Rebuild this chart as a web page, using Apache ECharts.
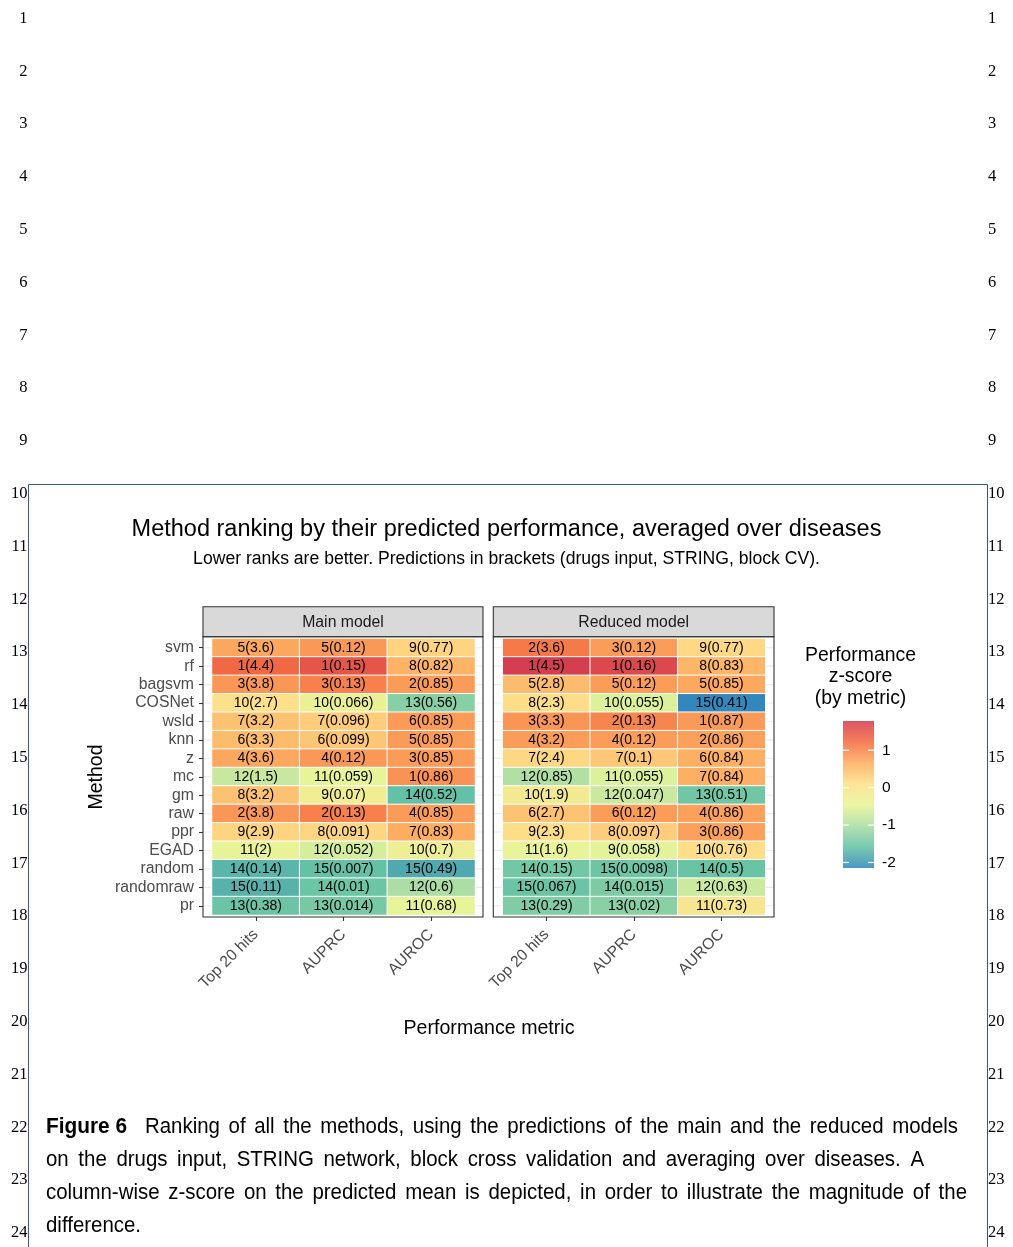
<!DOCTYPE html>
<html>
<head>
<meta charset="utf-8">
<script src="https://cdn.jsdelivr.net/npm/echarts@6/dist/echarts.min.js"></script>
<style>
  html, body { margin: 0; padding: 0; background: #ffffff; }
  #chart { width: 1013px; height: 1247px; }
</style>
</head>
<body>
<div id="chart"></div>
<script>
// ---- data -----------------------------------------------------------------
const methods = ['svm', 'rf', 'bagsvm', 'COSNet', 'wsld', 'knn', 'z', 'mc', 'gm', 'raw', 'ppr', 'EGAD', 'random', 'randomraw', 'pr'];
const metrics = ['Top 20 hits', 'AUPRC', 'AUROC'];
const panelNames = ['Main model', 'Reduced model'];

// main model: rank and predicted mean per metric
const mainTop20Rank = [5, 1, 3, 10, 7, 6, 4, 12, 8, 2, 9, 11, 14, 15, 13];
const mainTop20Pred = [3.6, 4.4, 3.8, 2.7, 3.2, 3.3, 3.6, 1.5, 3.2, 3.8, 2.9, 2, 0.14, 0.11, 0.38];
const mainAuprcRank = [5, 1, 3, 10, 7, 6, 4, 11, 9, 2, 8, 12, 15, 14, 13];
const mainAuprcPred = [0.12, 0.15, 0.13, 0.066, 0.096, 0.099, 0.12, 0.059, 0.07, 0.13, 0.091, 0.052, 0.007, 0.01, 0.014];
const mainAurocRank = [9, 8, 2, 13, 6, 5, 3, 1, 14, 4, 7, 10, 15, 12, 11];
const mainAurocPred = [0.77, 0.82, 0.85, 0.56, 0.85, 0.85, 0.85, 0.86, 0.52, 0.85, 0.83, 0.7, 0.49, 0.6, 0.68];

// reduced model: rank and predicted mean per metric
const redTop20Rank = [2, 1, 5, 8, 3, 4, 7, 12, 10, 6, 9, 11, 14, 15, 13];
const redTop20Pred = [3.6, 4.5, 2.8, 2.3, 3.3, 3.2, 2.4, 0.85, 1.9, 2.7, 2.3, 1.6, 0.15, 0.067, 0.29];
const redAuprcRank = [3, 1, 5, 10, 2, 4, 7, 11, 12, 6, 8, 9, 15, 14, 13];
const redAuprcPred = [0.12, 0.16, 0.12, 0.055, 0.13, 0.12, 0.1, 0.055, 0.047, 0.12, 0.097, 0.058, 0.0098, 0.015, 0.02];
const redAurocRank = [9, 8, 5, 15, 1, 2, 6, 7, 13, 4, 3, 10, 14, 12, 11];
const redAurocPred = [0.77, 0.83, 0.85, 0.41, 0.87, 0.86, 0.84, 0.84, 0.51, 0.86, 0.86, 0.76, 0.5, 0.63, 0.73];

// colour bar
const legendTicks = [1, 0, -1, -2];
const spectral = ['#3288bd', '#66c2a5', '#abdda4', '#e6f598', '#fee08b', '#fdae61', '#f46d43', '#d53e4f'];

// ---- helpers --------------------------------------------------------------
// column-wise z-score (sample standard deviation)
function zscore(arr) {
  const n = arr.length;
  const mean = arr.reduce((a, b) => a + b, 0) / n;
  const sd = Math.sqrt(arr.reduce((a, b) => a + (b - mean) * (b - mean), 0) / (n - 1));
  return arr.map(v => (v - mean) / sd);
}

function buildCells(ranks, preds) {
  const out = [];
  preds.forEach((col, c) => {
    const z = zscore(col);
    col.forEach((p, r) => out.push([c, r, z[r], ranks[c][r], p]));
  });
  return out;
}
const mainCells = buildCells([mainTop20Rank, mainAuprcRank, mainAurocRank], [mainTop20Pred, mainAuprcPred, mainAurocPred]);
const redCells = buildCells([redTop20Rank, redAuprcRank, redAurocRank], [redTop20Pred, redAuprcPred, redAurocPred]);

// colour scale limits follow the range of the z-scores
const allZ = mainCells.concat(redCells).map(c => c[2]);
const zLimits = [Math.min(...allZ), Math.max(...allZ)];

// ---- layout ---------------------------------------------------------------
const SANS = '"Liberation Sans", Arial, Helvetica, sans-serif';
const SERIF = '"Liberation Serif", "DejaVu Serif", serif';

const PANEL_TOP = 636.7, PANEL_BOTTOM = 917, STRIP_TOP = 606.7;
const CELL_TOP = 638.5, CELL_H = 276.5;
const panels = [
  { x0: 203, x1: 483, cellLeft: 212, cellW: 263 },
  { x0: 493.3, x1: 774, cellLeft: 502.7, cellW: 262.6 }
];
const PAD_X = 9;

// ---- page decorations -----------------------------------------------------
const graphics = [];

// line numbers in both margins
for (let n = 1; n <= 24; n++) {
  const y = 18.5 + (n - 1) * 52.8;
  graphics.push({ type: 'text', silent: true, style: { text: String(n), x: 27.5, y, align: 'right', verticalAlign: 'middle', font: '16.5px ' + SERIF, fill: '#000' } });
  graphics.push({ type: 'text', silent: true, style: { text: String(n), x: 988, y, align: 'left', verticalAlign: 'middle', font: '16.5px ' + SERIF, fill: '#000' } });
}

// figure frame
graphics.push({ type: 'polyline', silent: true, z: 50, shape: { points: [[28.5, 1260], [28.5, 484.5], [987.5, 484.5], [987.5, 1260]] }, style: { stroke: '#34598c', lineWidth: 1, fill: null } });

// facet strips and panel borders
panels.forEach((p, i) => {
  graphics.push({ type: 'rect', silent: true, z: 60, shape: { x: p.x0, y: STRIP_TOP, width: p.x1 - p.x0, height: PANEL_TOP - STRIP_TOP }, style: { fill: '#d9d9d9', stroke: '#333333', lineWidth: 1.1 } });
  graphics.push({ type: 'text', silent: true, z: 61, style: { text: panelNames[i], x: (p.x0 + p.x1) / 2, y: (STRIP_TOP + PANEL_TOP) / 2 + 0.5, align: 'center', verticalAlign: 'middle', font: '15.8px ' + SANS, fill: '#1a1a1a' } });
  graphics.push({ type: 'rect', silent: true, z: 60, shape: { x: p.x0, y: PANEL_TOP, width: p.x1 - p.x0, height: PANEL_BOTTOM - PANEL_TOP }, style: { fill: null, stroke: '#333333', lineWidth: 1.1 } });
});

// axis titles
graphics.push({ type: 'text', silent: true, rotation: Math.PI / 2, x: 97, y: 777, style: { text: 'Method', x: 0, y: 0, align: 'center', verticalAlign: 'middle', font: '19.5px ' + SANS, fill: '#000' } });
graphics.push({ type: 'text', silent: true, style: { text: 'Performance metric', x: 489, y: 1029, align: 'center', verticalAlign: 'middle', font: '19.6px ' + SANS, fill: '#000' } });

// colour bar title
graphics.push({ type: 'text', silent: true, style: { text: 'Performance\nz-score\n(by metric)', x: 860.5, y: 677, align: 'center', verticalAlign: 'middle', lineHeight: 21.5, font: '19.4px ' + SANS, fill: '#000' } });

// caption: a narrowed sans face, justified word by word
const measureCtx = document.createElement('canvas').getContext('2d');
function textWidth(t, font) { measureCtx.font = font; return measureCtx.measureText(t).width; }
const capFont = '21.5px ' + SANS;
const capBold = 'bold 21.5px ' + SANS;
const capScale = 95 / textWidth('difference.', capFont);
const leadScale = 81 / textWidth('Figure 6', capBold);
const captionLines = [
  { lead: 'Figure 6', text: 'Ranking of all the methods, using the predictions of the main and the reduced models', right: 958, y: 1127 },
  { text: 'on the drugs input, STRING network, block cross validation and averaging over diseases. A', right: 924, y: 1160 },
  { text: 'column-wise z-score on the predicted mean is depicted, in order to illustrate the magnitude of the', right: 967, y: 1193.5 },
  { text: 'difference.', right: null, y: 1226.5 }
];
function captionWord(text, x, y, font, scale) {
  return { type: 'text', silent: true, x, y, scaleX: scale, style: { text, x: 0, y: 0, verticalAlign: 'middle', font, fill: '#000' } };
}
captionLines.forEach(line => {
  let x = 46;
  if (line.lead) {
    graphics.push(captionWord(line.lead, x, line.y, capBold, leadScale));
    x = 145;
  }
  const words = line.text.split(' ');
  const widths = words.map(w => textWidth(w, capFont) * capScale);
  const natural = widths.reduce((a, b) => a + b, 0);
  const space = textWidth(' ', capFont) * capScale;
  const gap = line.right ? Math.max(space * 0.6, (line.right - x - natural) / (words.length - 1)) : space;
  words.forEach((w, k) => {
    graphics.push(captionWord(w, x, line.y, capFont, capScale));
    x += widths[k] + gap;
  });
});

// ---- series renderers -----------------------------------------------------
function rowLine(params, api) {
  const cs = params.coordSys;
  const y = api.coord([0, api.value(1)])[1];
  return { type: 'line', silent: true, shape: { x1: cs.x - PAD_X, y1: y, x2: cs.x + cs.width + PAD_X, y2: y }, style: { stroke: '#ebebeb', lineWidth: 1.1 } };
}
function colLine(params, api) {
  const cs = params.coordSys;
  const x = api.coord([api.value(0), 0])[0];
  return { type: 'line', silent: true, shape: { x1: x, y1: cs.y - 2, x2: x, y2: cs.y + cs.height + 2 }, style: { stroke: '#ebebeb', lineWidth: 1.1 } };
}
function colourBar(params, api) {
  const cs = params.coordSys;
  const top = api.coord([0, zLimits[1]])[1];
  const bottom = api.coord([0, zLimits[0]])[1];
  const stops = spectral.map((c, i) => ({ offset: 1 - i / (spectral.length - 1), color: c })).reverse();
  const children = [{
    type: 'rect', shape: { x: cs.x, y: top, width: cs.width, height: bottom - top },
    style: { fill: new echarts.graphic.LinearGradient(0, 0, 0, 1, stops), opacity: 0.88 }
  }];
  legendTicks.forEach(t => {
    const y = api.coord([0, t])[1];
    children.push({ type: 'line', shape: { x1: cs.x, y1: y, x2: cs.x + 6, y2: y }, style: { stroke: '#ffffff', lineWidth: 1.2 } });
    children.push({ type: 'line', shape: { x1: cs.x + cs.width - 6, y1: y, x2: cs.x + cs.width, y2: y }, style: { stroke: '#ffffff', lineWidth: 1.2 } });
  });
  return { type: 'group', silent: true, children };
}

// ---- axes -----------------------------------------------------------------
const xAxisFor = (i) => ({
  type: 'category', gridIndex: i, data: metrics, offset: 2,
  axisLine: { show: false },
  axisTick: { show: true, alignWithLabel: true, length: 4, lineStyle: { color: '#333333', width: 1.1 } },
  axisLabel: { interval: 0, rotate: 45, margin: 15, padding: [16, 0, 0, 0], fontSize: 15.8, fontFamily: SANS, color: '#4d4d4d' },
  splitLine: { show: false }
});
const yAxisFor = (i) => ({
  type: 'category', gridIndex: i, data: methods, inverse: true, offset: PAD_X, show: i === 0,
  axisLine: { show: false },
  axisTick: { show: true, alignWithLabel: true, length: 4, lineStyle: { color: '#333333', width: 1.1 } },
  axisLabel: { interval: 0, margin: 9, fontSize: 15.8, fontFamily: SANS, color: '#4d4d4d' },
  splitLine: { show: false }
});

const heatmapFor = (i, cells) => ({
  type: 'heatmap', xAxisIndex: i, yAxisIndex: i, z: 3,
  data: cells,
  itemStyle: { borderColor: '#ffffff', borderWidth: 1 },
  label: { show: true, formatter: p => p.value[3] + '(' + p.value[4] + ')', color: '#000', fontSize: 14, fontFamily: SANS },
  emphasis: { disabled: true }
});

const option = {
  backgroundColor: '#ffffff',
  animation: false,
  title: [
    { text: 'Method ranking by their predicted performance, averaged over diseases', left: 'center', top: 518, padding: 0,
      textStyle: { fontSize: 23.5, fontWeight: 'normal', fontFamily: SANS, color: '#000' } },
    { text: 'Lower ranks are better. Predictions in brackets (drugs input, STRING, block CV).', left: 'center', top: 550.5, padding: 0,
      textStyle: { fontSize: 17.6, fontWeight: 'normal', fontFamily: SANS, color: '#000' } }
  ],
  grid: [
    { left: panels[0].cellLeft, top: CELL_TOP, width: panels[0].cellW, height: CELL_H, outerBoundsMode: 'none' },
    { left: panels[1].cellLeft, top: CELL_TOP, width: panels[1].cellW, height: CELL_H, outerBoundsMode: 'none' },
    { left: 843, top: 721, width: 31, height: 147, outerBoundsMode: 'none' }
  ],
  xAxis: [
    xAxisFor(0), xAxisFor(1),
    { type: 'category', gridIndex: 2, data: [''], show: false }
  ],
  yAxis: [
    yAxisFor(0), yAxisFor(1),
    { type: 'value', gridIndex: 2, position: 'right', min: zLimits[0], max: zLimits[1],
      axisLine: { show: false }, axisTick: { show: false }, splitLine: { show: false },
      axisLabel: { customValues: legendTicks, margin: 8, fontSize: 15.5, fontFamily: SANS, color: '#000' } }
  ],
  visualMap: {
    type: 'continuous', show: false, dimension: 2, seriesIndex: [0, 1],
    min: zLimits[0], max: zLimits[1], inRange: { color: spectral }
  },
  series: [
    heatmapFor(0, mainCells),
    heatmapFor(1, redCells),
    { type: 'custom', xAxisIndex: 0, yAxisIndex: 0, z: 1, renderItem: rowLine, data: methods.map((m, i) => [0, i]) },
    { type: 'custom', xAxisIndex: 0, yAxisIndex: 0, z: 1, renderItem: colLine, data: metrics.map((m, i) => [i, 0]) },
    { type: 'custom', xAxisIndex: 1, yAxisIndex: 1, z: 1, renderItem: rowLine, data: methods.map((m, i) => [0, i]) },
    { type: 'custom', xAxisIndex: 1, yAxisIndex: 1, z: 1, renderItem: colLine, data: metrics.map((m, i) => [i, 0]) },
    { type: 'custom', xAxisIndex: 2, yAxisIndex: 2, z: 1, renderItem: colourBar, data: [[0, 0]] }
  ],
  graphic: graphics
};

const chart = echarts.init(document.getElementById('chart'), null, { renderer: 'canvas' });
chart.setOption(option);
</script>
</body>
</html>
